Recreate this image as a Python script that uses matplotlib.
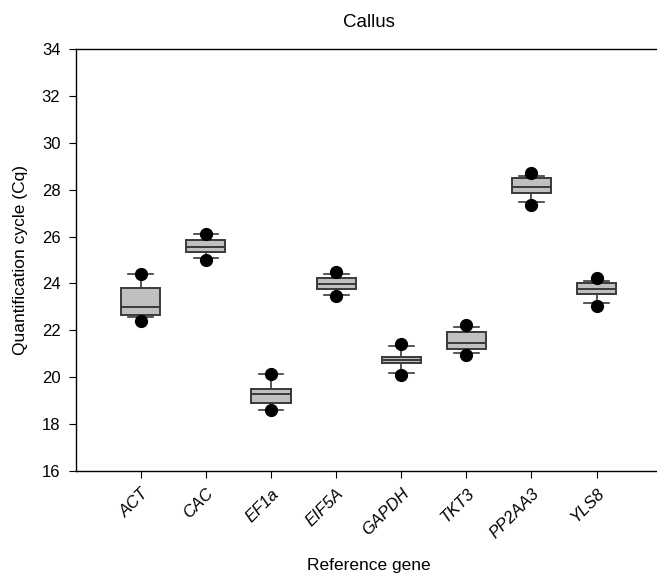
import matplotlib
matplotlib.use("Agg")
import matplotlib.pyplot as plt

plt.rcParams['font.family'] = ['Liberation Sans', 'DejaVu Sans']

genes = ['ACT', 'CAC', 'EF1a', 'EIF5A', 'GAPDH', 'TKT3', 'PP2AA3', 'YLS8']
q1 = [22.65, 25.34, 18.88, 23.75, 20.61, 21.21, 27.85, 23.55]
med = [22.98, 25.54, 19.26, 23.98, 20.73, 21.47, 28.13, 23.78]
q3 = [23.79, 25.85, 19.48, 24.22, 20.86, 21.94, 28.49, 24.00]
whislo = [22.56, 25.07, 18.59, 23.52, 20.19, 21.01, 27.46, 23.15]
whishi = [24.40, 26.10, 20.13, 24.40, 21.33, 22.15, 28.60, 24.12]
dot_lo = [22.41, 25.00, 18.59, 23.45, 20.10, 20.94, 27.35, 23.05]
dot_hi = [24.40, 26.11, 20.13, 24.50, 21.41, 22.22, 28.70, 24.22]


def main():
    fig = plt.figure(figsize=(6.57, 5.78), dpi=100)
    ax = fig.add_axes([0.1152, 0.1856, 0.892, 0.729])

    stats = []
    for i, g in enumerate(genes):
        stats.append({
            'label': g,
            'q1': q1[i], 'med': med[i], 'q3': q3[i],
            'whislo': whislo[i], 'whishi': whishi[i],
            'fliers': [dot_lo[i], dot_hi[i]],
        })

    edge = '#3a3a3a'
    ax.bxp(stats, positions=range(1, len(genes) + 1), widths=0.6,
           patch_artist=True, capwidths=0.38,
           boxprops=dict(facecolor='#c0c0c0', edgecolor=edge, linewidth=1.4),
           medianprops=dict(color=edge, linewidth=1.4),
           whiskerprops=dict(color=edge, linewidth=1.2),
           capprops=dict(color=edge, linewidth=1.2),
           flierprops=dict(marker='o', markerfacecolor='black',
                           markeredgecolor='black', markersize=8.5))

    ax.set_xlim(0, 9)
    ax.set_ylim(16, 34)
    ax.set_yticks(range(16, 35, 2))
    ax.set_xticks(range(1, len(genes) + 1))
    ax.set_xticklabels(genes, rotation=45, ha='right', rotation_mode='anchor',
                       fontstyle='italic', fontsize=12)
    ax.tick_params(axis='y', labelsize=12, length=5, direction='out', pad=6)
    ax.tick_params(axis='x', length=5, direction='out', pad=6)
    ax.spines['right'].set_visible(False)
    for s in ['left', 'top', 'bottom']:
        ax.spines[s].set_linewidth(1.0)
        ax.spines[s].set_color('black')

    ax.set_ylabel('Quantification cycle (Cq)', fontsize=12.5, labelpad=10)
    ax.set_xlabel('Reference gene', fontsize=12.5, labelpad=12)
    ax.set_title('Callus', fontsize=13.5, pad=16)

    fig.savefig('out.png', dpi=100)


if __name__ == "__main__":
    main()
